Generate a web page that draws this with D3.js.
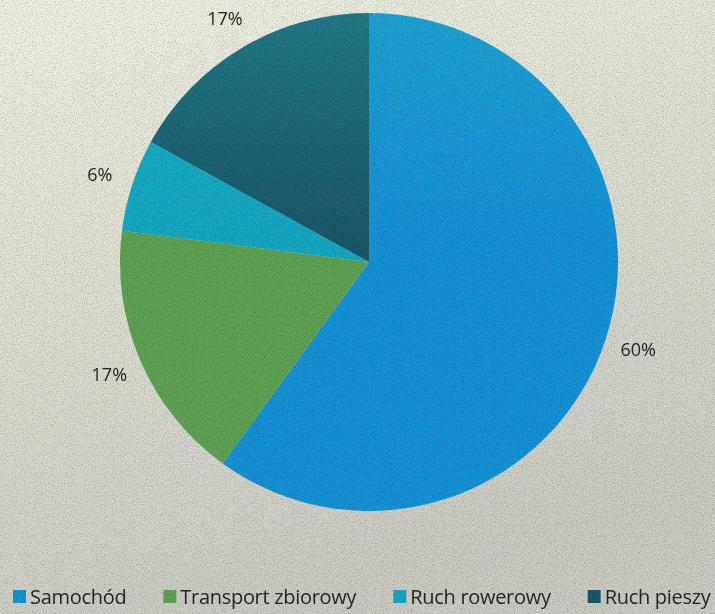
<!DOCTYPE html>
<html>
	<head>
		<meta charset="utf-8">
		<title>Pie</title>
		<style>
			html, body
			{
				margin: 0;
				overflow: hidden;
			}

			text
			{
				font-family: "Open Sans", "Noto Sans", sans-serif;
				fill: #262626;
			}

			.pct
			{
				font-size: 18px;
			}

			.leg
			{
				font-size: 20px;
				letter-spacing: -0.3px;
			}
		</style>
	</head>
	<body>
		<svg id="chart" width="715" height="614"></svg>
	</body>

	<script src="https://cdnjs.cloudflare.com/ajax/libs/d3/7.8.5/d3.min.js"></script>
	<script>
		const categories = ["Samochód", "Transport zbiorowy", "Ruch rowerowy", "Ruch pieszy"];
		const shares = [60, 17, 6, 17];
		const colours = ["#1594d8", "#5fa453", "#14a9c4", "#1a586a"];

		const width = 715, height = 614;
		const cx = 369, cy = 262, radius = 249;

		const svg = d3.select("#chart");
		const defs = svg.append("defs");

		// paper-ish background
		const bg = defs.append("linearGradient")
			.attr("id", "bg").attr("x1", 0).attr("y1", 0).attr("x2", 0.3).attr("y2", 1);
		bg.append("stop").attr("offset", "0%").attr("stop-color", "#f0f4e4");
		bg.append("stop").attr("offset", "40%").attr("stop-color", "#e2e4d6");
		bg.append("stop").attr("offset", "100%").attr("stop-color", "#cdcdc4");

		const grain = defs.append("filter").attr("id", "grain")
			.attr("x", 0).attr("y", 0).attr("width", "100%").attr("height", "100%");
		grain.append("feTurbulence").attr("type", "fractalNoise")
			.attr("baseFrequency", 0.9).attr("numOctaves", 2).attr("seed", 3);
		grain.append("feColorMatrix").attr("type", "matrix")
			.attr("values", "0 0 0 0 0.35  0 0 0 0 0.35  0 0 0 0 0.4  0 0 0 -2.2 1.25");

		svg.append("rect").attr("width", width).attr("height", height).attr("fill", "url(#bg)");

		const colour = d3.scaleOrdinal().domain(categories).range(colours);

		const pie = d3.pie().sort(null).value(d => d.value);
		const arcs = pie(categories.map((c, i) => ({name: c, value: shares[i]})));

		const arc = d3.arc().innerRadius(0).outerRadius(radius);
		const labelArc = d3.arc().innerRadius(283).outerRadius(283);

		const g = svg.append("g").attr("transform", `translate(${cx},${cy})`);

		g.selectAll("path.slice")
			.data(arcs)
			.enter().append("path")
				.attr("class", "slice")
				.attr("d", arc)
				.attr("fill", d => colour(d.data.name));

		// slight shading, more cyan near the top like the scan
		const shade = defs.append("linearGradient")
			.attr("id", "shade").attr("x1", 0).attr("y1", 0).attr("x2", 0).attr("y2", 1);
		shade.append("stop").attr("offset", "0%").attr("stop-color", "#2fc8d0").attr("stop-opacity", 0.3);
		shade.append("stop").attr("offset", "45%").attr("stop-color", "#2fc8d0").attr("stop-opacity", 0);
		g.append("circle").attr("r", radius).attr("fill", "url(#shade)");

		g.selectAll("text.pct")
			.data(arcs)
			.enter().append("text")
				.attr("class", "pct")
				.attr("transform", d => `translate(${labelArc.centroid(d)})`)
				.attr("text-anchor", "middle")
				.attr("dy", "0.35em")
				.text(d => d.data.value + "%");

		// legend
		const legend = svg.append("g").attr("transform", "translate(13,597)");
		let x = 0;
		categories.forEach((c, i) => {
			const item = legend.append("g").attr("transform", `translate(${x},0)`);
			item.append("rect")
				.attr("x", 0).attr("y", -7)
				.attr("width", 13).attr("height", 13)
				.attr("fill", colour(c));
			const t = item.append("text")
				.attr("class", "leg")
				.attr("x", 17).attr("dy", "0.35em")
				.text(c);
			x += 17 + t.node().getComputedTextLength() + 37;
		});

		svg.append("rect").attr("width", width).attr("height", height)
			.attr("filter", "url(#grain)").attr("opacity", 0.6)
			.style("mix-blend-mode", "multiply");
	</script>
</html>
